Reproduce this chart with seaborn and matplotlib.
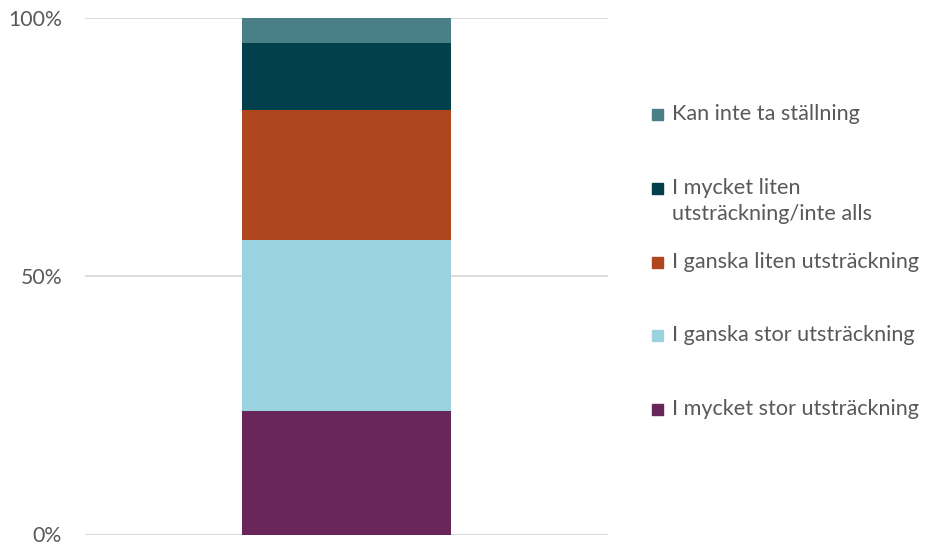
import numpy as np
import pandas as pd
import matplotlib
matplotlib.use('Agg')
import matplotlib.pyplot as plt
import seaborn as sns
from matplotlib.patches import Rectangle

# answer categories, bottom to top
categories = ['I mycket stor utsträckning', 'I ganska stor utsträckning',
              'I ganska liten utsträckning', 'I mycket liten\nutsträckning/inte alls',
              'Kan inte ta ställning']
shares = [23.9, 33.1, 25.1, 13.0, 4.9]
colors = ['#682659', '#9AD3DF', '#B0461D', '#02414C', '#4A7F88']
yticks = [0, 50, 100]
ytick_labels = ['0%', '50%', '100%']

sns.set_style('white')
plt.rcParams['font.family'] = ['Lato', 'DejaVu Sans']
text_col = '#595959'

fig = plt.figure(figsize=(9.26, 5.42), dpi=100)
ax = fig.add_axes([85 / 926, 7.5 / 542, 523 / 926, 517 / 542])

# stacked bar: draw cumulative totals from the top segment down
cum = np.cumsum(shares)
for i in reversed(range(len(shares))):
    df = pd.DataFrame({'grp': [''], 'val': [cum[i]]})
    sns.barplot(data=df, x='grp', y='val', color=colors[i], width=0.4,
                saturation=1, ax=ax, zorder=3, linewidth=0, edgecolor='none')

ax.set_xlim(-0.5, 0.5)
ax.set_ylim(0, 100)
ax.set_yticks(yticks)
ax.set_yticklabels(ytick_labels, color=text_col, fontsize=15.3)
ax.tick_params(axis='y', length=0, pad=16.5)
ax.set_xticks([])
ax.set_xlabel('')
ax.set_ylabel('')
for y in yticks:
    ax.axhline(y, color='#D9D9D9', lw=1.3, zorder=1)
sns.despine(ax=ax, left=True, bottom=True)

# legend, top entry first
leg_y = [114, 188, 262, 335, 409]
for k, i in enumerate(reversed(range(len(categories)))):
    yc = 1 - leg_y[k] / 542
    fig.patches.append(Rectangle((652 / 926, yc - 5.5 / 542), 11 / 926, 11 / 542,
                                 transform=fig.transFigure, color=colors[i]))
    for j, line in enumerate(categories[i].split('\n')):
        fig.text(672 / 926, yc - j * 26 / 542, line, ha='left', va='center',
                 fontsize=15.6, color=text_col)

fig.savefig('out.png', dpi=100)
